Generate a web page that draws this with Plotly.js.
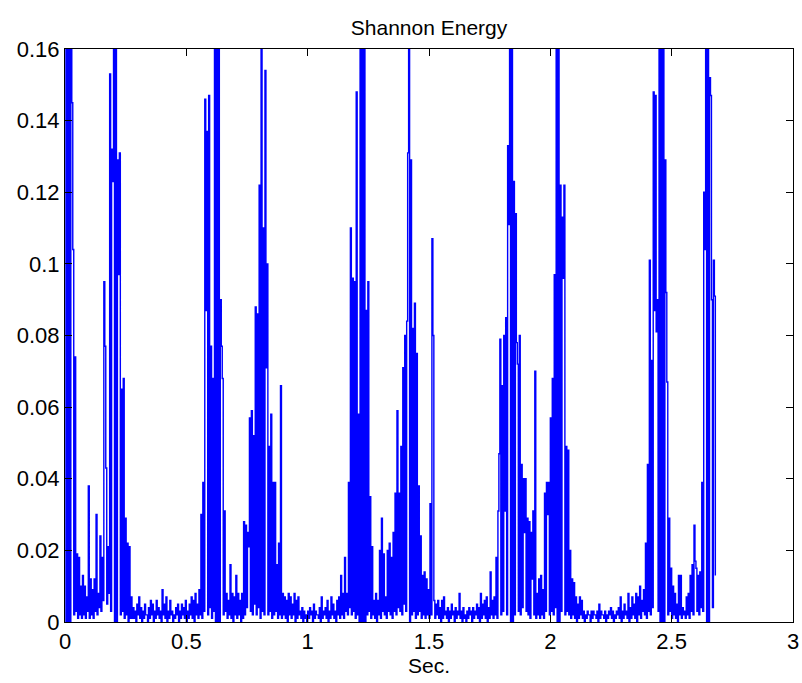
<!DOCTYPE html>
<html>
<head>
<meta charset="utf-8">
<script src="https://cdn.plot.ly/plotly-3.0.1.min.js"></script>
<style>
  html, body { margin: 0; padding: 0; background: #ffffff; }
  #chart { width: 802px; height: 683px; }
</style>
</head>
<body>
<div id="chart"></div>
<script>
// Shannon energy samples, in thousandths (x 0.001),
// one value every 0.004 s starting at t = 0 (peak, trough, peak, trough, ...).
// Values above 160 run off the top of the axes in the original.
const sampleStep = 0.004;
const shannonMilli = [
  250,0, 300,0, 220,0, 190,145, 104,2, 74,3, 19,1, 18,2, 10,1, 13,2,
  10,1, 7,3, 38,1, 12,2, 9,1, 12,3, 30,2, 8,4, 24,3, 18,6,
  95,77, 43,5, 21,8, 153,3, 132,123, 200,0, 220,0, 129,97, 131,2, 65,3,
  68,1, 29,2, 22,0, 21,1, 7,1, 4,1, 3,0, 5,2, 7,1, 4,0,
  3,1, 5,2, 2,0, 4,1, 6,2, 5,0, 3,1, 6,2, 4,1, 3,0,
  9,2, 5,1, 7,0, 3,1, 6,2, 3,0, 2,1, 4,2, 5,0, 3,1,
  5,2, 4,1, 6,0, 3,1, 5,2, 7,1, 6,0, 8,2, 5,1, 9,2,
  30,1, 39,3, 146,87, 137,2, 147,4, 77,1, 68,3, 220,0, 250,0, 200,0,
  90,77, 68,2, 31,3, 8,1, 6,2, 16,1, 8,0, 7,2, 13,1, 8,2,
  6,0, 8,1, 28,2, 27,4, 25,21, 57,3, 59,2, 52,5, 88,2, 86,4,
  122,1, 170,3, 110,2, 154,71, 100,2, 49,3, 58,1, 39,2, 39,3, 16,1,
  22,2, 66,1, 8,2, 7,1, 6,0, 8,2, 7,1, 5,2, 8,0, 6,1,
  7,2, 3,1, 4,0, 3,1, 2,0, 3,1, 4,2, 3,0, 5,1, 3,2,
  2,1, 4,0, 7,1, 3,2, 4,1, 6,0, 3,1, 7,2, 5,1, 3,0,
  6,2, 7,1, 13,2, 8,1, 18,3, 8,2, 39,4, 110,2, 96,3, 95,1,
  148,2, 58,0, 220,0, 260,0, 200,0, 87,2, 95,3, 35,1, 21,2, 6,1,
  8,0, 6,2, 20,1, 29,3, 19,2, 7,1, 20,3, 22,2, 18,1, 25,3,
  36,2, 59,4, 36,3, 49,2, 71,5, 80,3, 84,131, 200,0, 129,2, 82,3,
  89,1, 75,2, 38,3, 24,1, 13,2, 14,1, 12,2, 9,1, 33,2, 107,80,
  6,1, 5,2, 6,1, 4,0, 6,1, 7,2, 3,1, 4,0, 3,1, 5,2,
  3,0, 4,1, 3,2, 8,1, 3,0, 4,1, 2,0, 3,1, 4,2, 3,0,
  4,1, 3,2, 5,1, 4,0, 8,1, 5,2, 6,1, 7,0, 4,1, 14,2,
  6,1, 7,2, 18,1, 31,47, 79,2, 66,3, 80,31, 85,2, 133,111, 240,0,
  260,0, 123,2, 114,78, 72,3, 80,2, 44,4, 40,25, 40,3, 29,2, 28,1,
  25,12, 31,2, 70,1, 8,2, 12,1, 13,2, 9,1, 36,3, 39,30, 39,2,
  57,3, 68,2, 97,4, 220,0, 250,0, 122,3, 113,96, 122,2, 49,3, 48,2,
  20,1, 12,2, 11,1, 7,0, 5,1, 7,2, 6,1, 3,0, 2,1, 3,2,
  2,0, 3,1, 3,2, 2,1, 3,0, 5,1, 3,2, 2,1, 3,0, 2,1,
  3,2, 4,1, 3,0, 2,1, 3,2, 4,1, 7,0, 3,1, 5,2, 3,1,
  8,0, 4,1, 7,2, 5,1, 8,0, 7,2, 10,1, 6,3, 9,2, 22,1,
  44,3, 101,2, 73,4, 148,87, 147,81, 90,3, 230,0, 260,0, 210,0, 129,92,
  67,2, 29,3, 15,1, 10,2, 8,1, 5,0, 13,2, 13,1, 4,2, 3,1,
  7,2, 8,1, 13,3, 16,2, 27,17, 15,3, 13,2, 14,4, 39,3, 120,104,
  200,0, 250,0, 152,147, 90,4, 101,91, 13
];

const xTickVals = [0, 0.5, 1, 1.5, 2, 2.5, 3];
const xTickText = ['0', '0.5', '1', '1.5', '2', '2.5', '3'];
const yTickVals = [0, 0.02, 0.04, 0.06, 0.08, 0.1, 0.12, 0.14, 0.16];
const yTickText = ['0', '0.02', '0.04', '0.06', '0.08', '0.1', '0.12', '0.14', '0.16'];

const timeSec = shannonMilli.map((_, i) => i * sampleStep);
const energy = shannonMilli.map(v => v / 1000);

const fontFamily = '"Liberation Sans", Arial, Helvetica, sans-serif';

const trace = {
  type: 'scatter',
  mode: 'lines',
  x: timeSec,
  y: energy,
  line: { color: '#0000ff', width: 1.4, shape: 'hv', simplify: false },
  hoverinfo: 'skip',
  showlegend: false
};

const axisCommon = {
  showgrid: false,
  zeroline: false,
  showline: true,
  linecolor: '#000000',
  linewidth: 1,
  mirror: 'ticks',
  ticks: 'inside',
  ticklen: 7,
  tickwidth: 1,
  tickcolor: '#000000',
  tickfont: { family: fontFamily, size: 22, color: '#000000' }
};

const layout = {
  width: 802,
  height: 683,
  margin: { l: 65, r: 9, t: 49, b: 61, pad: 0 },
  paper_bgcolor: '#ffffff',
  plot_bgcolor: '#ffffff',
  font: { family: fontFamily, color: '#000000' },
  title: {
    text: 'Shannon Energy',
    font: { family: fontFamily, size: 21, color: '#000000' },
    x: 0.535, xanchor: 'center',
    y: 0.96, yanchor: 'middle'
  },
  xaxis: Object.assign({}, axisCommon, {
    range: [0, 3],
    tickvals: xTickVals,
    ticktext: xTickText,
    title: { text: 'Sec.', font: { family: fontFamily, size: 21, color: '#000000' }, standoff: 0 }
  }),
  yaxis: Object.assign({}, axisCommon, {
    range: [0, 0.16],
    tickvals: yTickVals,
    ticktext: yTickText
  })
};

Plotly.newPlot('chart', [trace], layout, { staticPlot: true, displayModeBar: false });
</script>
</body>
</html>
